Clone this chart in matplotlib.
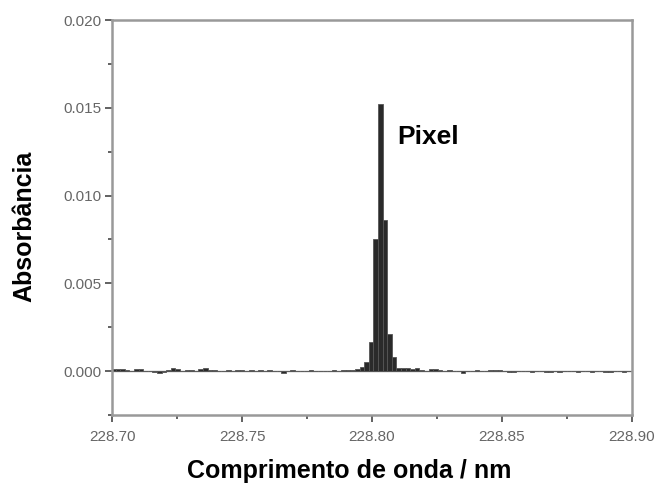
import numpy as np
import matplotlib
matplotlib.use("Agg")
import matplotlib.pyplot as plt
from matplotlib.ticker import MultipleLocator

# Data: absorbance per detector pixel
wl_start = 228.7005
wl_step = 0.00177
absorbance = [
    0.00010, 0.00012, 0.00010, 0.00005, 0.00003, 0.00010, 0.00012, 0.00000,
    0.00002, -0.00003, -0.00010, -0.00003, 0.00008, 0.00015, 0.00012, 0.00002,
    0.00005, 0.00008, 0.00002, 0.00010, 0.00020, 0.00005, 0.00008, 0.00000,
    0.00003, 0.00005, 0.00002, 0.00008, 0.00004, 0.00002, 0.00007, 0.00003,
    0.00005, 0.00002, 0.00006, 0.00003, 0.00001, -0.00008, 0.00002, 0.00005,
    0.00000, 0.00002, 0.00001, 0.00004, 0.00002, 0.00000, 0.00003, 0.00002,
    0.00005, 0.00003, 0.00006, 0.00004, 0.00008, 0.00010, 0.00025, 0.00050,
    0.00167, 0.00750, 0.01520, 0.00860, 0.00210, 0.00080, 0.00020, 0.00015,
    0.00020, 0.00010, 0.00018, 0.00005, 0.00003, 0.00010, 0.00012, 0.00004,
    0.00002, 0.00006, 0.00003, 0.00000, -0.00012, 0.00002, 0.00003, 0.00005,
    0.00000, 0.00002, 0.00005, 0.00008, 0.00004, 0.00002, -0.00005, -0.00003,
    0.00000, -0.00002, 0.00001, -0.00004, -0.00002, 0.00000, -0.00003, -0.00005,
    -0.00002, -0.00004, 0.00002, -0.00002, 0.00001, -0.00005, -0.00002, 0.00000,
    -0.00003, 0.00002, -0.00001, -0.00004, -0.00006, -0.00002, 0.00001, -0.00003,
    -0.00002,
]
wavelength = np.round(wl_start + wl_step * np.arange(len(absorbance)), 5)

x_ticks = [228.70, 228.75, 228.80, 228.85, 228.90]
x_ticklabels = ["228.70", "228.75", "228.80", "228.85", "228.90"]
y_ticks = [0.000, 0.005, 0.010, 0.015, 0.020]
y_ticklabels = ["0.000", "0.005", "0.010", "0.015", "0.020"]

plt.rcParams['font.family'] = ['Liberation Sans', 'DejaVu Sans']

W, H = 660, 483
fig = plt.figure(figsize=(6.6, 4.83), dpi=100)
ax = fig.add_axes([112/W, 1-415/H, 520/W, 395/H])

ax.bar(wavelength, absorbance, width=wl_step, color='#2a2a2a',
       edgecolor='#555555', linewidth=0.6, align='center')
ax.axhline(0, color='#888888', linewidth=1.0, zorder=0)

ax.set_xlim(228.70, 228.90)
ax.set_ylim(-0.0025, 0.020)

ax.set_xticks(x_ticks)
ax.set_xticklabels(x_ticklabels)
ax.set_yticks(y_ticks)
ax.set_yticklabels(y_ticklabels)
ax.xaxis.set_minor_locator(MultipleLocator(0.025))
ax.yaxis.set_minor_locator(MultipleLocator(0.0025))

grey = '#999999'
for s in ax.spines.values():
    s.set_color(grey)
    s.set_linewidth(1.8)
ax.tick_params(which='both', direction='out', colors='#555555',
               labelcolor='#666666', labelsize=11, width=1.3,
               top=False, right=False)
ax.tick_params(which='major', length=5)
ax.tick_params(which='minor', length=3)
ax.tick_params(axis='x', which='major', pad=5.5)
ax.tick_params(axis='y', which='major', pad=2.5)

fig.text(349/W, 1-478/H, "Comprimento de onda / nm", fontsize=18,
         fontweight='bold', ha='center', va='baseline')
fig.text(24/W, 1-226/H, "Absorbância", fontsize=18, fontweight='bold',
         ha='center', va='center', rotation=90)

ax.text(228.8096, 0.01333, "Pixel", fontsize=19, fontweight='bold',
        ha='left', va='center')

fig.savefig("out.png", dpi=100)
